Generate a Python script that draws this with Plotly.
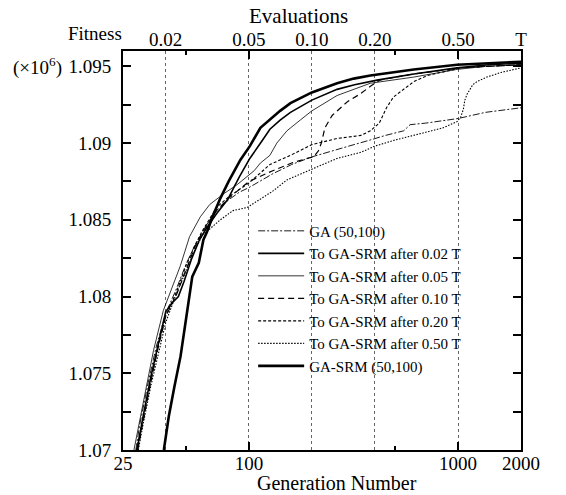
import math
import plotly.graph_objects as go

# ---------------- data ----------------
ga_gen = [28.8, 30, 33, 36, 40, 45, 50, 55, 60, 65, 70, 80, 90, 100, 130, 160, 200, 250, 300, 380, 450, 550, 590, 700, 800, 1000, 1350, 2000]
ga_val = [1.0700, 1.0716, 1.0744, 1.0767, 1.0789, 1.0805, 1.0821, 1.0833, 1.0842, 1.0850, 1.0856, 1.0863, 1.0868, 1.0871, 1.0880, 1.0886, 1.0891, 1.0895, 1.0898, 1.0902, 1.0905, 1.0908, 1.0912, 1.0913, 1.0914, 1.0916, 1.0920, 1.0923]

sw002_gen = [29.2, 31, 34, 37, 40, 43, 46, 49, 53, 58, 63, 70, 79, 90, 101, 115, 126, 141, 158, 200, 264, 320, 410, 614, 990, 1400, 2000]
sw002_val = [1.0700, 1.0720, 1.0748, 1.0771, 1.0790, 1.0796, 1.0800, 1.0810, 1.0824, 1.0837, 1.0845, 1.0854, 1.0863, 1.0878, 1.0890, 1.0901, 1.0909, 1.0915, 1.0920, 1.0928, 1.0935, 1.0938, 1.0941, 1.0945, 1.0949, 1.0951, 1.0952]

sw005_gen = [28.2, 31.4, 35, 39, 43, 47, 52, 58.6, 65, 75.8, 88, 98, 106, 113.5, 126, 136, 152, 176, 200, 264, 381, 614, 990, 1350, 2000]
sw005_val = [1.0700, 1.0733, 1.0765, 1.0791, 1.0806, 1.0820, 1.0839, 1.0852, 1.0860, 1.0867, 1.0873, 1.0878, 1.0882, 1.0887, 1.0892, 1.0900, 1.0908, 1.0915, 1.0921, 1.0931, 1.0939, 1.0943, 1.0948, 1.0950, 1.0951]

sw010_gen = [29.4, 31, 34, 37, 40, 45, 50, 55, 60, 70, 80, 90, 100, 130, 160, 190, 204, 215, 222, 231, 250, 296, 340, 381, 422, 500, 614, 800, 1000, 1400, 2000]
sw010_val = [1.0700, 1.0717, 1.0745, 1.0768, 1.0787, 1.0801, 1.0818, 1.0832, 1.0842, 1.0856, 1.0864, 1.0870, 1.0875, 1.0882, 1.0887, 1.0890, 1.0891, 1.0895, 1.0900, 1.0910, 1.0918, 1.0927, 1.0932, 1.0937, 1.0941, 1.0943, 1.0945, 1.0947, 1.0949, 1.0950, 1.0951]

sw020_gen = [29.0, 31, 34, 37, 40, 45, 50, 55, 60, 70, 80, 100, 126, 158, 200, 264, 343, 381, 420, 442, 455, 491, 550, 614, 712, 890, 1028, 1400, 2000]
sw020_val = [1.0700, 1.0719, 1.0746, 1.0769, 1.0787, 1.0803, 1.0820, 1.0833, 1.0843, 1.0858, 1.0865, 1.0874, 1.0886, 1.0892, 1.0899, 1.0903, 1.0905, 1.0908, 1.0913, 1.0919, 1.0923, 1.0930, 1.0935, 1.0940, 1.0944, 1.0947, 1.0949, 1.0950, 1.0951]

sw050_gen = [29.6, 31, 34, 37, 40, 45, 50, 55, 60, 67, 73, 84, 98, 115, 131, 152, 176, 200, 264, 343, 400, 500, 700, 850, 990, 1030, 1060, 1078, 1106, 1136, 1176, 1230, 1375, 1600, 1840, 2000]
sw050_val = [1.0700, 1.0715, 1.0742, 1.0764, 1.0783, 1.0802, 1.0817, 1.0830, 1.0840, 1.0846, 1.0850, 1.0856, 1.0858, 1.0864, 1.0869, 1.0876, 1.0880, 1.0883, 1.0890, 1.0894, 1.0898, 1.0902, 1.0907, 1.0910, 1.0914, 1.0917, 1.0922, 1.0928, 1.0932, 1.0935, 1.0938, 1.0940, 1.0943, 1.0946, 1.0948, 1.0949]

srm_gen = [39.2, 41.4, 44, 47.1, 50, 53.6, 57.6, 60.6, 63, 67, 73, 80, 91, 101, 113.5, 127, 141, 158, 176, 200, 264, 317, 381, 614, 990, 1352, 2000]
srm_val = [1.0700, 1.0722, 1.0741, 1.0761, 1.0785, 1.0813, 1.0822, 1.0837, 1.0842, 1.0852, 1.0864, 1.0875, 1.0889, 1.0898, 1.0910, 1.0916, 1.0921, 1.0926, 1.0929, 1.0933, 1.0939, 1.0942, 1.0944, 1.0948, 1.0951, 1.0952, 1.0953]

series_names = ["GA (50,100)", "To GA-SRM after 0.02 T", "To GA-SRM after 0.05 T",
                "To GA-SRM after 0.10 T", "To GA-SRM after 0.20 T", "To GA-SRM after 0.50 T",
                "GA-SRM (50,100)"]

x_tick_vals = [25, 100, 1000, 2000]
x_tick_text = ["25", "100", "1000", "2000"]
x_minor_vals = [50, 500]

top_tick_gens = [40, 100, 200, 400, 1000, 2000]
top_tick_text = ["0.02", "0.05", "0.10", "0.20", "0.50", "T"]

y_tick_vals = [1.07, 1.075, 1.08, 1.085, 1.09, 1.095]
y_tick_text = ["1.07", "1.075", "1.08", "1.085", "1.09", "1.095"]
y_minor_vals = [1.0725, 1.0775, 1.0825, 1.0875, 1.0925]

x_range = [25, 2000]
y_range = [1.07, 1.096]

# ---------------- styles ----------------
FONT = "Liberation Serif, Times New Roman, serif"
styles = [
    dict(width=0.9, dash="7px,2px,2px,2px"),
    dict(width=1.6, dash="solid"),
    dict(width=0.8, dash="solid"),
    dict(width=1.2, dash="6px,4px"),
    dict(width=1.1, dash="3px,2px"),
    dict(width=1.1, dash="1.5px,1.5px"),
    dict(width=2.6, dash="solid"),
]
data = [(ga_gen, ga_val), (sw002_gen, sw002_val), (sw005_gen, sw005_val),
        (sw010_gen, sw010_val), (sw020_gen, sw020_val), (sw050_gen, sw050_val),
        (srm_gen, srm_val)]

fig = go.Figure()

# trace with no visible points that activates the top (evaluations) axis
fig.add_trace(go.Scatter(x=top_tick_gens, y=[None] * len(top_tick_gens), xaxis="x2", yaxis="y",
                         mode="lines", showlegend=False, hoverinfo="skip"))

for name, (g, v), st in zip(series_names, data, styles):
    fig.add_trace(go.Scatter(x=g, y=v, name=name, mode="lines",
                             line=dict(color="black", width=st["width"], dash=st["dash"])))

log_range = [math.log10(x_range[0]), math.log10(x_range[1])]

fig.update_layout(
    width=566, height=495,
    margin=dict(l=123, r=45, t=51, b=45),
    paper_bgcolor="white", plot_bgcolor="white",
    font=dict(family=FONT, size=19, color="black"),
    showlegend=True,
    legend=dict(x=0.327, y=0.59, xanchor="left", yanchor="top",
                bgcolor="rgba(0,0,0,0)", borderwidth=0,
                font=dict(family=FONT, size=15, color="black"),
                itemwidth=46, tracegroupgap=0),
    xaxis=dict(type="log", range=log_range, tickmode="array",
               tickvals=x_tick_vals, ticktext=x_tick_text,
               ticks="inside", ticklen=8, tickwidth=2, tickcolor="black",
               minor=dict(tickvals=x_minor_vals, ticks="inside", ticklen=4, tickwidth=2, tickcolor="black"),
               showline=True, linewidth=2, linecolor="black", mirror="ticks",
               showgrid=False, zeroline=False, automargin=False,
               tickfont=dict(size=19), ticklabelstandoff=-5),
    xaxis2=dict(type="log", range=log_range, overlaying="x", side="top",
                tickmode="array", tickvals=top_tick_gens, ticktext=top_tick_text,
                ticks="", showline=False, automargin=False,
                showgrid=True, gridcolor="#666666", gridwidth=1, griddash="dot",
                zeroline=False, tickfont=dict(size=19)),
    yaxis=dict(range=y_range, tickmode="array", tickvals=y_tick_vals, ticktext=y_tick_text,
               ticks="inside", ticklen=8, tickwidth=2, tickcolor="black",
               minor=dict(tickvals=y_minor_vals, ticks="inside", ticklen=8, tickwidth=2, tickcolor="black"),
               showline=True, linewidth=2, linecolor="black", mirror="ticks",
               showgrid=False, zeroline=False, automargin=False, tickfont=dict(size=19),
               ticklabelstandoff=6),
    annotations=[
        dict(text="Fitness", xref="paper", yref="paper", x=-0.07, y=1.0, yshift=18,
             xanchor="center", yanchor="middle", showarrow=False, font=dict(size=19)),
        dict(text="(×10<sup>6</sup>)", xref="paper", yref="y", x=-0.148, y=1.095,
             xanchor="right", yanchor="middle", showarrow=False, font=dict(size=19)),
        dict(text="Evaluations", xref="paper", yref="paper", x=0.44, y=1.0, yshift=35,
             xanchor="center", yanchor="middle", showarrow=False, font=dict(size=21)),
        dict(text="Generation Number", xref="paper", yref="paper", x=0.537, y=0.0, yshift=-33,
             xanchor="center", yanchor="middle", showarrow=False, font=dict(size=20)),
    ],
)

fig.write_html("out.html")
